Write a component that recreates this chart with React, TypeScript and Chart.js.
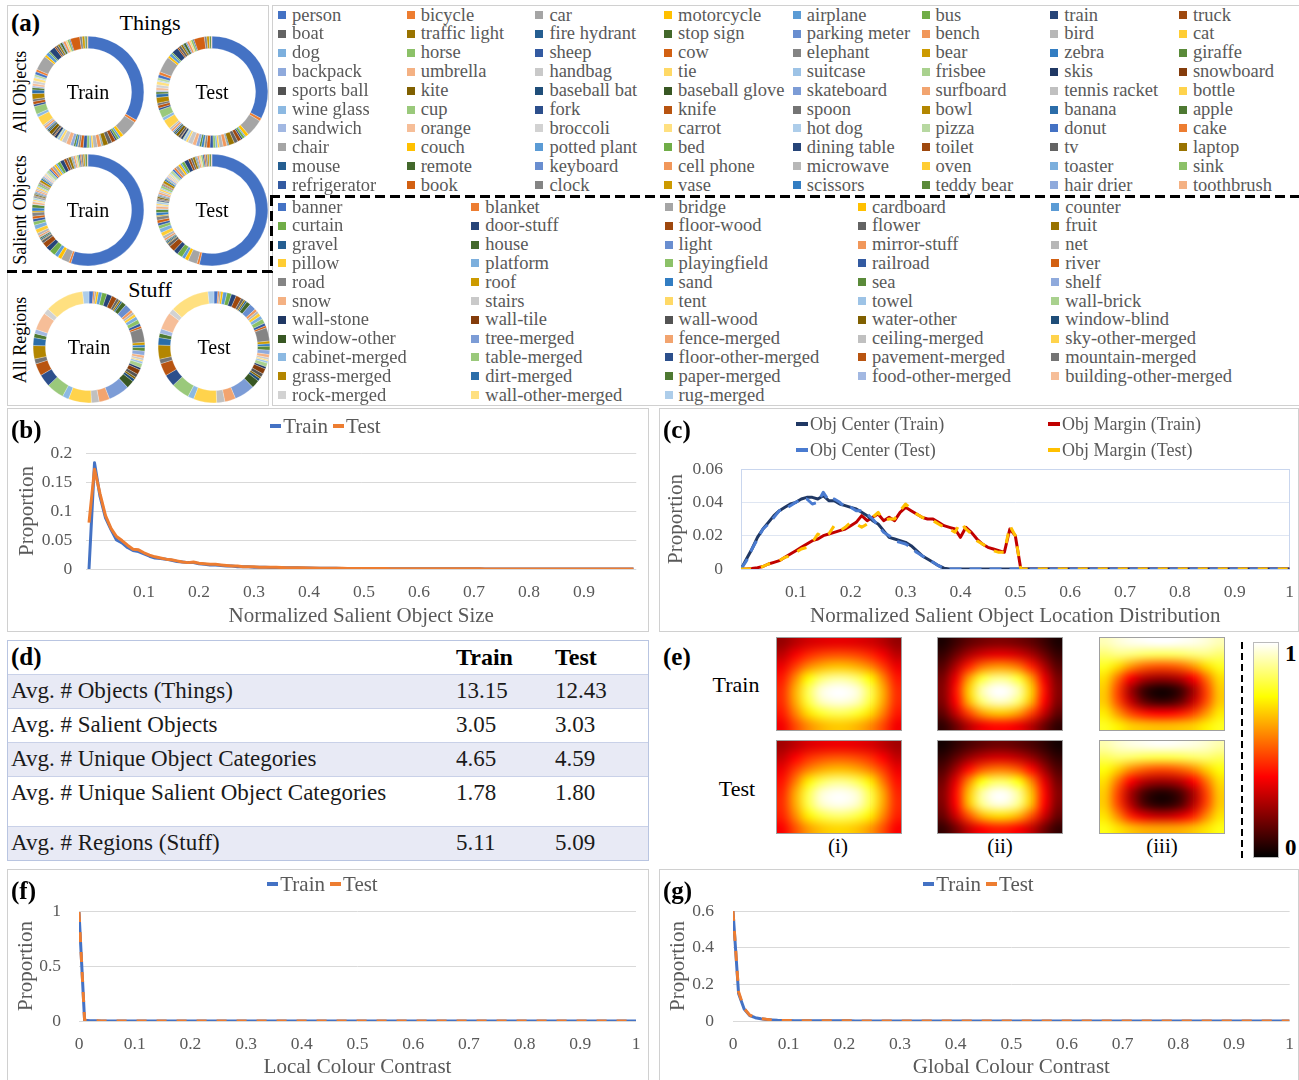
import React, { useEffect, useRef } from "react";
import { Chart, registerables } from "chart.js";
Chart.register(...registerables);

const SERIF = '"Liberation Serif", "Times New Roman", Times, serif';
const TXT = "#595959";

// ---------------- (a) categories & donut values ----------------
const THINGS = ["person","bicycle","car","motorcycle","airplane","bus","train","truck","boat","traffic light","fire hydrant","stop sign","parking meter","bench","bird","cat","dog","horse","sheep","cow","elephant","bear","zebra","giraffe","backpack","umbrella","handbag","tie","suitcase","frisbee","skis","snowboard","sports ball","kite","baseball bat","baseball glove","skateboard","surfboard","tennis racket","bottle","wine glass","cup","fork","knife","spoon","bowl","banana","apple","sandwich","orange","broccoli","carrot","hot dog","pizza","donut","cake","chair","couch","potted plant","bed","dining table","toilet","tv","laptop","mouse","remote","keyboard","cell phone","microwave","oven","toaster","sink","refrigerator","book","clock","vase","scissors","teddy bear","hair drier","toothbrush"];
const STUFF = ["banner","blanket","bridge","cardboard","counter","curtain","door-stuff","floor-wood","flower","fruit","gravel","house","light","mirror-stuff","net","pillow","platform","playingfield","railroad","river","road","roof","sand","sea","shelf","snow","stairs","tent","towel","wall-brick","wall-stone","wall-tile","wall-wood","water-other","window-blind","window-other","tree-merged","fence-merged","ceiling-merged","sky-other-merged","cabinet-merged","table-merged","floor-other-merged","pavement-merged","mountain-merged","grass-merged","dirt-merged","paper-merged","food-other-merged","building-other-merged","rock-merged","wall-other-merged","rug-merged"];

const THINGS_ALL_TRAIN = [300,7.1,43.9,8.7,5.1,6.1,4.6,10.0,10.8,12.9,1.9,2.0,1.3,9.8,10.8,4.8,5.5,6.6,9.5,8.1,5.5,1.3,5.3,5.1,8.7,11.4,12.4,6.5,6.2,2.7,6.6,2.7,6.3,9.1,3.3,3.7,5.5,6.1,4.8,24.3,7.9,20.7,5.5,7.8,6.2,14.4,9.5,5.9,4.4,6.4,7.3,7.9,2.9,5.8,7.2,6.4,38.5,5.8,8.7,4.2,15.7,4.2,5.8,5.0,2.3,5.7,2.9,6.4,1.7,3.3,0.2,5.6,2.6,24.7,6.3,6.6,1.5,4.8,0.2,2.0];
const THINGS_ALL_TEST = [126,3.2,19.3,3.7,1.4,2.8,1.9,4.1,4.2,6.3,1.0,0.8,0.6,4.1,4.3,2.0,2.2,2.7,3.5,3.7,2.5,0.7,2.7,2.3,3.7,4.1,5.4,2.5,3.0,1.2,2.4,0.7,2.6,3.3,1.5,1.5,1.8,2.7,2.3,10.3,3.4,9.0,2.2,3.3,2.5,6.3,3.8,2.4,1.8,2.9,3.2,3.7,1.3,2.9,3.4,3.2,17.9,2.6,3.4,1.6,7.0,1.8,2.9,2.3,1.1,2.8,1.5,2.6,0.6,1.4,0.1,2.3,1.3,11.6,2.7,2.8,0.4,1.9,0.1,0.6];
const THINGS_SALIENT_TRAIN = [700,8,30,14,14,22,18,20,10,3,5,5,3,6,10,15,16,13,10,10,14,5,12,12,2,8,3,5,5,3,3,2,3,5,2,3,5,6,6,6,4,8,3,3,2,9,6,3,7,4,6,4,4,12,6,8,10,8,6,12,15,10,8,10,2,3,4,6,3,4,1,6,5,4,7,6,2,7,1,2];
const THINGS_SALIENT_TEST = [680,9,34,13,12,20,17,22,11,4,5,4,3,7,11,14,15,12,9,11,13,4,11,11,3,9,4,6,6,3,4,2,4,6,2,3,5,7,6,7,4,9,3,4,3,10,6,3,8,4,6,5,4,11,7,8,12,9,6,11,16,9,8,9,2,3,4,6,3,4,1,6,5,5,7,6,2,6,1,2];
const STUFF_TRAIN = [12,4,5,6,10,14,15,15,8,5,5,13,20,8,7,8,10,12,8,6,40,8,7,10,12,8,6,4,6,12,6,14,10,6,8,22,60,30,22,65,18,50,35,35,14,38,22,12,12,50,16,110,18];
const STUFF_TEST = [11,4,5,6,11,13,14,16,8,5,5,12,19,8,7,9,10,13,8,6,38,8,7,11,12,9,6,4,6,11,6,15,10,6,8,23,58,31,23,66,17,52,34,36,13,40,21,12,13,49,15,112,17];

// ---------------- (b) size distribution ----------------
const SIZE_TICKS = [0.1,0.2,0.3,0.4,0.5,0.6,0.7,0.8,0.9];
const SIZE_TRAIN = [
  0,0.183,0.125,0.088,0.068,0.05,0.045,0.037,0.032,0.03,
  0.026,0.022,0.019,0.018,0.017,0.015,0.013,0.012,0.011,0.011,
  0.009,0.008,0.007,0.007,0.006,0.005,0.005,0.004,0.004,0.004,
  0.003,0.003,0.003,0.0025,0.0025,0.002,0.002,0.002,0.002,0.0018,
  0.0016,0.0015,0.0014,0.0013,0.0012,0.0011,0.001,0.001,0.0009,0.0009,
  0.0008,0.0008,0.0007,0.0007,0.0006,0.0006,0.0006,0.0005,0.0005,0.0005,
  0.0004,0.0004,0.0004,0.0004,0.0003,0.0003,0.0003,0.0003,0.0003,0.0003,
  0.0003,0.0003,0.0002,0.0002,0.0002,0.0002,0.0002,0.0002,0.0002,0.0002,
  0.0002,0.0002,0.0002,0.0002,0.0002,0.0001,0.0001,0.0001,0.0001,0.0001,
  0.0001,0.0001,0.0001,0.0001,0.0001,0.0001,0.0001,0.0001,0.0001,0.0001];
const SIZE_TEST = [
  0.08,0.172,0.13,0.092,0.07,0.056,0.049,0.041,0.034,0.033,
  0.028,0.024,0.021,0.019,0.017,0.016,0.014,0.012,0.011,0.012,
  0.01,0.009,0.008,0.008,0.007,0.006,0.005,0.005,0.004,0.004,
  0.004,0.003,0.003,0.003,0.003,0.0025,0.0022,0.002,0.002,0.002,
  0.0018,0.0016,0.0015,0.0014,0.0013,0.0012,0.0011,0.001,0.001,0.0009,
  0.0009,0.0008,0.0008,0.0007,0.0007,0.0006,0.0006,0.0005,0.0005,0.0005,
  0.0004,0.0004,0.0004,0.0004,0.0004,0.0003,0.0003,0.0003,0.0003,0.0003,
  0.0003,0.0003,0.0002,0.0002,0.0002,0.0002,0.0002,0.0002,0.0002,0.0002,
  0.0002,0.0002,0.0002,0.0002,0.0002,0.0002,0.0001,0.0001,0.0001,0.0001,
  0.0001,0.0001,0.0001,0.0001,0.0001,0.0001,0.0001,0.0001,0.0001,0.0001];

// ---------------- (c) location distribution ----------------
const LOC_TICKS = [0.1,0.2,0.3,0.4,0.5,0.6,0.7,0.8,0.9,1];
const CENTER_TRAIN = [
  0,0.006,0.012,0.019,0.024,0.028,0.032,0.035,0.037,0.039,
  0.04,0.042,0.043,0.043,0.042,0.044,0.041,0.041,0.039,0.038,
  0.037,0.036,0.034,0.032,0.029,0.027,0.023,0.019,0.018,0.017,
  0.016,0.014,0.011,0.008,0.006,0.004,0.002,0.0005,0,0,
  0,0,0,0,0,0,0,0,0,0, 0,0,0,0,0,0,0,0,0,0,
  0,0,0,0,0,0,0,0,0,0, 0,0,0,0,0,0,0,0,0,0,
  0,0,0,0,0,0,0,0,0,0, 0,0,0,0,0,0,0,0,0,0, 0];
const CENTER_TEST = [
  0,0.005,0.012,0.018,0.024,0.027,0.031,0.035,0.036,0.038,
  0.04,0.042,0.042,0.039,0.04,0.046,0.041,0.042,0.04,0.037,
  0.037,0.035,0.035,0.033,0.03,0.026,0.022,0.02,0.017,0.016,
  0.015,0.013,0.01,0.008,0.006,0.004,0.002,0.0003,0,0,
  0,0,0,0,0,0,0,0,0,0, 0,0,0,0,0,0,0,0,0,0,
  0,0,0,0,0,0,0,0,0,0, 0,0,0,0,0,0,0,0,0,0,
  0,0,0,0,0,0,0,0,0,0, 0,0,0,0,0,0,0,0,0,0, 0];
const MARGIN_TRAIN = [
  0,0,0.0003,0.0008,0.0015,0.003,0.004,0.005,0.007,0.009,
  0.011,0.013,0.015,0.017,0.018,0.02,0.021,0.022,0.023,0.024,
  0.026,0.028,0.032,0.029,0.031,0.033,0.029,0.031,0.029,0.034,
  0.037,0.035,0.033,0.031,0.03,0.03,0.028,0.026,0.025,0.024,
  0.019,0.025,0.022,0.018,0.015,0.013,0.012,0.011,0.01,0.024,
  0.02,0,0,0,0,0,0,0,0,0,
  0,0,0,0,0,0,0,0,0,0, 0,0,0,0,0,0,0,0,0,0,
  0,0,0,0,0,0,0,0,0,0, 0,0,0,0,0,0,0,0,0,0, 0];
const MARGIN_TEST = [
  0,0,0.0002,0.0006,0.0015,0.003,0.004,0.005,0.007,0.008,
  0.01,0.012,0.013,0.016,0.021,0.019,0.021,0.026,0.023,0.025,
  0.028,0.027,0.025,0.027,0.031,0.034,0.029,0.03,0.03,0.035,
  0.039,0.036,0.033,0.031,0.03,0.029,0.027,0.025,0.024,0.022,
  0.028,0.024,0.021,0.017,0.015,0.013,0.011,0.01,0.01,0.026,
  0.02,0,0,0,0,0,0,0,0,0,
  0,0,0,0,0,0,0,0,0,0, 0,0,0,0,0,0,0,0,0,0,
  0,0,0,0,0,0,0,0,0,0, 0,0,0,0,0,0,0,0,0,0, 0];

// ---------------- (d) table ----------------
const TABLE_ROWS = ["Avg. # Objects (Things)","Avg. # Salient Objects","Avg. # Unique Object Categories","Avg. # Unique Salient Object Categories","Avg. # Regions (Stuff)"];
const TABLE_TRAIN = ["13.15","3.05","4.65","1.78","5.11"];
const TABLE_TEST = ["12.43","3.03","4.59","1.80","5.09"];

// ---------------- (e) heat maps (8 rows x 10 cols, top row first) ----------------
const HEAT_I_TRAIN = [
  [0.22,0.27,0.31,0.33,0.34,0.34,0.33,0.31,0.27,0.22],
  [0.28,0.36,0.43,0.47,0.49,0.49,0.47,0.43,0.36,0.28],
  [0.35,0.46,0.57,0.63,0.66,0.66,0.63,0.57,0.46,0.35],
  [0.41,0.57,0.74,0.85,0.9,0.9,0.85,0.74,0.57,0.41],
  [0.44,0.63,0.83,0.96,1.0,1.0,0.96,0.83,0.63,0.44],
  [0.44,0.62,0.81,0.93,0.97,0.97,0.93,0.81,0.62,0.44],
  [0.41,0.56,0.7,0.79,0.83,0.83,0.79,0.7,0.56,0.41],
  [0.36,0.48,0.58,0.64,0.67,0.67,0.64,0.58,0.48,0.36]];
const HEAT_I_TEST = [
  [0.24,0.28,0.32,0.34,0.35,0.35,0.34,0.32,0.28,0.24],
  [0.29,0.37,0.44,0.48,0.5,0.5,0.48,0.44,0.37,0.29],
  [0.35,0.46,0.56,0.62,0.65,0.65,0.62,0.56,0.46,0.35],
  [0.4,0.55,0.72,0.83,0.88,0.88,0.83,0.72,0.55,0.4],
  [0.43,0.62,0.82,0.95,0.99,0.99,0.95,0.82,0.62,0.43],
  [0.44,0.62,0.82,0.94,0.98,0.98,0.94,0.82,0.62,0.44],
  [0.42,0.57,0.72,0.81,0.85,0.85,0.81,0.72,0.57,0.42],
  [0.37,0.49,0.6,0.66,0.69,0.69,0.66,0.6,0.49,0.37]];
const HEAT_II_TRAIN = [
  [0.04,0.09,0.14,0.17,0.19,0.19,0.17,0.14,0.09,0.04],
  [0.08,0.16,0.25,0.31,0.34,0.34,0.31,0.25,0.16,0.08],
  [0.13,0.26,0.42,0.54,0.59,0.59,0.54,0.42,0.26,0.13],
  [0.18,0.35,0.6,0.8,0.88,0.88,0.8,0.6,0.35,0.18],
  [0.2,0.4,0.68,0.92,1.0,1.0,0.92,0.68,0.4,0.2],
  [0.19,0.38,0.64,0.86,0.94,0.94,0.86,0.64,0.38,0.19],
  [0.14,0.29,0.47,0.6,0.66,0.66,0.6,0.47,0.29,0.14],
  [0.07,0.16,0.27,0.35,0.39,0.39,0.35,0.27,0.16,0.07]];
const HEAT_II_TEST = [
  [0.03,0.07,0.11,0.14,0.16,0.16,0.14,0.11,0.07,0.03],
  [0.07,0.14,0.22,0.28,0.31,0.31,0.28,0.22,0.14,0.07],
  [0.12,0.24,0.39,0.5,0.55,0.55,0.5,0.39,0.24,0.12],
  [0.17,0.34,0.57,0.76,0.84,0.84,0.76,0.57,0.34,0.17],
  [0.2,0.39,0.66,0.9,0.99,0.99,0.9,0.66,0.39,0.2],
  [0.19,0.38,0.65,0.88,0.96,0.96,0.88,0.65,0.38,0.19],
  [0.15,0.3,0.49,0.63,0.69,0.69,0.63,0.49,0.3,0.15],
  [0.08,0.17,0.29,0.37,0.41,0.41,0.37,0.29,0.17,0.08]];
const HEAT_III_TRAIN = [
  [0.93,0.96,0.98,0.99,1.0,1.0,0.99,0.98,0.96,0.93],
  [0.86,0.88,0.87,0.85,0.84,0.84,0.85,0.87,0.88,0.86],
  [0.78,0.7,0.6,0.53,0.5,0.5,0.53,0.6,0.7,0.78],
  [0.7,0.54,0.37,0.27,0.23,0.23,0.27,0.37,0.54,0.7],
  [0.67,0.47,0.24,0.09,0.03,0.03,0.09,0.24,0.47,0.67],
  [0.67,0.49,0.29,0.15,0.09,0.09,0.15,0.29,0.49,0.67],
  [0.72,0.6,0.48,0.41,0.38,0.38,0.41,0.48,0.6,0.72],
  [0.78,0.73,0.68,0.66,0.65,0.65,0.66,0.68,0.73,0.78]];
const HEAT_III_TEST = [
  [0.92,0.95,0.97,0.98,0.99,0.99,0.98,0.97,0.95,0.92],
  [0.84,0.86,0.85,0.83,0.82,0.82,0.83,0.85,0.86,0.84],
  [0.76,0.68,0.58,0.52,0.49,0.49,0.52,0.58,0.68,0.76],
  [0.7,0.54,0.38,0.28,0.24,0.24,0.28,0.38,0.54,0.7],
  [0.67,0.47,0.25,0.11,0.05,0.05,0.11,0.25,0.47,0.67],
  [0.67,0.48,0.27,0.12,0.06,0.06,0.12,0.27,0.48,0.67],
  [0.71,0.58,0.43,0.34,0.3,0.3,0.34,0.43,0.58,0.71],
  [0.77,0.71,0.66,0.63,0.62,0.62,0.63,0.66,0.71,0.77]];

// ---------------- (f) / (g) colour contrast ----------------
const CONTRAST_TICKS = [0,0.1,0.2,0.3,0.4,0.5,0.6,0.7,0.8,0.9,1];
const LOCAL_TRAIN = [
  0.99,0.008,0.003,0.002,0.001,0.001,0.001,0.0005,0.0005,0.0005,
  0,0,0,0,0,0,0,0,0,0, 0,0,0,0,0,0,0,0,0,0, 0,0,0,0,0,0,0,0,0,0,
  0,0,0,0,0,0,0,0,0,0, 0,0,0,0,0,0,0,0,0,0, 0,0,0,0,0,0,0,0,0,0,
  0,0,0,0,0,0,0,0,0,0, 0,0,0,0,0,0,0,0,0,0, 0,0,0,0,0,0,0,0,0,0, 0];
const LOCAL_TEST = [
  0.99,0.01,0.003,0.002,0.001,0.001,0.0008,0.0005,0.0005,0.0004,
  0,0,0,0,0,0,0,0,0,0, 0,0,0,0,0,0,0,0,0,0, 0,0,0,0,0,0,0,0,0,0,
  0,0,0,0,0,0,0,0,0,0, 0,0,0,0,0,0,0,0,0,0, 0,0,0,0,0,0,0,0,0,0,
  0,0,0,0,0,0,0,0,0,0, 0,0,0,0,0,0,0,0,0,0, 0,0,0,0,0,0,0,0,0,0, 0];
const GLOBAL_TRAIN = [
  0.6,0.15,0.065,0.03,0.018,0.012,0.008,0.006,0.004,0.003,
  0.003,0.002,0.002,0.002,0.0015,0.0015,0.001,0.001,0.001,0.001,
  0.0008,0.0008,0.0006,0.0006,0.0005,0.0005,0.0004,0.0004,0.0003,0.0003,
  0.0003,0.0002,0.0002,0.0002,0.0002,0.0001,0.0001,0.0001,0.0001,0.0001,
  0,0,0,0,0,0,0,0,0,0, 0,0,0,0,0,0,0,0,0,0, 0,0,0,0,0,0,0,0,0,0,
  0,0,0,0,0,0,0,0,0,0, 0,0,0,0,0,0,0,0,0,0, 0,0,0,0,0,0,0,0,0,0, 0];
const GLOBAL_TEST = [
  0.6,0.16,0.068,0.032,0.019,0.013,0.009,0.006,0.004,0.003,
  0.003,0.002,0.002,0.002,0.0015,0.0015,0.001,0.001,0.001,0.001,
  0.0008,0.0008,0.0006,0.0006,0.0005,0.0005,0.0004,0.0004,0.0003,0.0003,
  0.0003,0.0002,0.0002,0.0002,0.0002,0.0001,0.0001,0.0001,0.0001,0.0001,
  0,0,0,0,0,0,0,0,0,0, 0,0,0,0,0,0,0,0,0,0, 0,0,0,0,0,0,0,0,0,0,
  0,0,0,0,0,0,0,0,0,0, 0,0,0,0,0,0,0,0,0,0, 0,0,0,0,0,0,0,0,0,0, 0];

// ---------------- helpers ----------------
const ACCENTS = ["#4472C4","#ED7D31","#A5A5A5","#FFC000","#5B9BD5","#70AD47"];
const VARIANTS = [[1,0],[0.6,0],[0.8,0.2],[0.8,0],[0.6,0.4],[0.5,0],[0.7,0.3],[0.7,0],[0.5,0.5]];
function rgbToHsl(r: number, g: number, b: number) {
  r /= 255; g /= 255; b /= 255;
  const max = Math.max(r, g, b), min = Math.min(r, g, b);
  let h = 0, s = 0; const l = (max + min) / 2;
  if (max !== min) {
    const d = max - min;
    s = l > 0.5 ? d / (2 - max - min) : d / (max + min);
    if (max === r) h = (g - b) / d + (g < b ? 6 : 0);
    else if (max === g) h = (b - r) / d + 2;
    else h = (r - g) / d + 4;
    h /= 6;
  }
  return [h, s, l];
}
function hslToRgb(h: number, s: number, l: number) {
  if (s === 0) return [l, l, l].map((v) => Math.round(v * 255));
  const f = (p: number, q: number, t: number) => {
    if (t < 0) t += 1; if (t > 1) t -= 1;
    if (t < 1 / 6) return p + (q - p) * 6 * t;
    if (t < 1 / 2) return q;
    if (t < 2 / 3) return p + (q - p) * (2 / 3 - t) * 6;
    return p;
  };
  const q = l < 0.5 ? l * (1 + s) : l + s - l * s; const p = 2 * l - q;
  return [f(p, q, h + 1 / 3), f(p, q, h), f(p, q, h - 1 / 3)].map((v) => Math.round(v * 255));
}
function excelColor(i: number) {
  const n = parseInt(ACCENTS[i % 6].slice(1), 16);
  const [m, o] = VARIANTS[Math.floor(i / 6) % 9];
  const [h, s, l] = rgbToHsl((n >> 16) & 255, (n >> 8) & 255, n & 255);
  const [r, g, b] = hslToRgb(h, s, Math.min(1, l * m + o));
  return `rgb(${r},${g},${b})`;
}
function hot(v: number) {
  const c = (x: number) => Math.max(0, Math.min(1, x));
  return [c(v / 0.375) * 255, c((v - 0.375) / 0.375) * 255, c((v - 0.75) / 0.25) * 255];
}
const fmt = (v: any) => String(Number(Number(v).toFixed(3)));

type Box = { l: number; t: number; w: number; h: number };

function ChartCanvas({ box, config }: { box: Box; config: any }) {
  const ref = useRef<HTMLCanvasElement | null>(null);
  useEffect(() => {
    const c = new Chart(ref.current as HTMLCanvasElement, config);
    return () => c.destroy();
  }, []);
  return (
    <div style={{ position: "absolute", left: box.l, top: box.t, width: box.w, height: box.h }}>
      <canvas ref={ref} width={box.w} height={box.h} style={{ display: "block", width: box.w, height: box.h }} />
    </div>
  );
}

const plotBorder = (color: string) => ({
  id: "plotBorder",
  beforeDatasetsDraw(chart: any) {
    const { ctx, chartArea: a } = chart;
    ctx.save(); ctx.strokeStyle = color; ctx.lineWidth = 1;
    ctx.strokeRect(Math.round(a.left) + 0.5, Math.round(a.top) + 0.5, Math.round(a.right - a.left) - 1, Math.round(a.bottom - a.top));
    ctx.restore();
  },
});

function lineConfig(o: any) {
  const padTop = o.plot.t - o.box.t;
  const padRight = o.box.l + o.box.w - o.plot.r;
  const yW = o.plot.l - o.box.l;
  const xH = o.box.t + o.box.h - o.plot.b;
  const titleSize = 21; const lh = titleSize * 1.2;
  const tickFont = { family: SERIF, size: 17.5 };
  return {
    type: "line",
    data: { datasets: o.datasets },
    options: {
      responsive: false, animation: false, devicePixelRatio: 1,
      layout: { padding: { left: 0, top: padTop, right: padRight, bottom: 0 } },
      plugins: { legend: { display: false }, tooltip: { enabled: false } },
      elements: { point: { radius: 0 }, line: { tension: 0, borderWidth: 3, borderCapStyle: "butt", borderJoinStyle: "round" } },
      scales: {
        x: {
          type: "linear", min: o.xMin, max: o.xMax,
          afterBuildTicks: (s: any) => { s.ticks = o.xTicks.map((v: number) => ({ value: v })); },
          afterFit: (s: any) => { s.height = xH; },
          grid: { display: false }, border: { display: false },
          ticks: { color: TXT, font: tickFont, padding: o.xLabelPad, maxRotation: 0, autoSkip: false, callback: (v: any) => fmt(v) },
          title: { display: true, text: o.xTitle, color: TXT, font: { family: SERIF, size: titleSize }, padding: { top: 0, bottom: (o.box.t + o.box.h - o.xTitleCy) - lh / 2 } },
        },
        y: {
          type: "linear", min: o.yMin, max: o.yMax,
          afterFit: (s: any) => { s.width = yW; },
          ticks: { stepSize: o.yStep, color: TXT, font: tickFont, padding: o.yLabelPad, callback: (v: any) => fmt(v) },
          grid: { color: o.gridColor, lineWidth: 1, drawTicks: false }, border: { display: false },
          title: { display: true, text: "Proportion", color: TXT, font: { family: SERIF, size: titleSize }, padding: { top: (o.yTitleCx - o.box.l) - lh / 2, bottom: 0 } },
        },
      },
    },
    plugins: o.border ? [plotBorder(o.border)] : [],
  };
}

const pts = (xs: number[], ys: number[]) => ys.map((y, i) => ({ x: xs[i], y }));
const SIZE_BINS = SIZE_TRAIN.map((_, i) => i / 100);
const LOC_BINS = CENTER_TRAIN.map((_, i) => i / 100);
const CONTRAST_BINS = LOCAL_TRAIN.map((_, i) => i / 100);

const BLUE = "#4472C4", ORANGE = "#ED7D31";

function donutConfig(values: number[], labels: string[]) {
  return {
    type: "doughnut",
    data: { labels, datasets: [{ data: values, backgroundColor: values.map((_, i) => excelColor(i)), borderColor: "#ffffff", borderWidth: 0.25 }] },
    options: { responsive: false, animation: false, devicePixelRatio: 1, cutout: "78%", layout: { padding: 0 }, plugins: { legend: { display: false }, tooltip: { enabled: false } } },
  };
}

const heatPlugin = {
  id: "heat",
  beforeDatasetsDraw(chart: any) {
    const { ctx } = chart;
    const xs = chart.scales.x, ys = chart.scales.y;
    const cols = xs.max, rows = ys.max;
    const off = document.createElement("canvas"); off.width = cols; off.height = rows;
    const octx = off.getContext("2d") as CanvasRenderingContext2D;
    const img = octx.createImageData(cols, rows);
    for (const p of chart.data.datasets[0].data) {
      const c = Math.floor(p.x), r = Math.floor(p.y); const k = (r * cols + c) * 4;
      const [R, G, B] = hot(p.v);
      img.data[k] = R; img.data[k + 1] = G; img.data[k + 2] = B; img.data[k + 3] = 255;
    }
    octx.putImageData(img, 0, 0);
    const x0 = xs.getPixelForValue(0), x1 = xs.getPixelForValue(cols);
    const y0 = ys.getPixelForValue(0), y1 = ys.getPixelForValue(rows);
    ctx.save();
    ctx.imageSmoothingEnabled = true; (ctx as any).imageSmoothingQuality = "high";
    ctx.drawImage(off, x0, Math.min(y0, y1), x1 - x0, Math.abs(y1 - y0));
    ctx.strokeStyle = "#a0a0a0"; ctx.lineWidth = 1;
    ctx.strokeRect(x0 + 0.5, Math.min(y0, y1) + 0.5, x1 - x0 - 1, Math.abs(y1 - y0) - 1);
    ctx.restore();
  },
};
function heatConfig(grid: number[][]) {
  const cells: any[] = [];
  grid.forEach((row, r) => row.forEach((v, c) => cells.push({ x: c + 0.5, y: r + 0.5, v })));
  return {
    type: "scatter",
    data: { datasets: [{ data: cells, pointRadius: 0 }] },
    options: {
      responsive: false, animation: false, devicePixelRatio: 1, layout: { padding: 0 },
      plugins: { legend: { display: false }, tooltip: { enabled: false } },
      scales: { x: { type: "linear", min: 0, max: grid[0].length, display: false }, y: { type: "linear", min: 0, max: grid.length, reverse: true, display: false } },
    },
    plugins: [heatPlugin],
  };
}

function T({ x, y, size = 18, bold = false, color = "#000", anchor = "start", children }: any) {
  const lh = Math.round(size * 1.2);
  return (
    <div style={{ position: "absolute", left: x, top: y - lh / 2, lineHeight: lh + "px", fontSize: size, fontWeight: bold ? "bold" : "normal", color, fontFamily: SERIF, whiteSpace: "nowrap", transform: anchor === "middle" ? "translateX(-50%)" : undefined }}>
      {children}
    </div>
  );
}
function VT({ x, y, size = 18, children }: any) {
  return (
    <div style={{ position: "absolute", left: x, top: y, fontSize: size, fontFamily: SERIF, color: "#000", whiteSpace: "nowrap", lineHeight: "1", transform: "translate(-50%,-50%) rotate(-90deg)" }}>{children}</div>
  );
}
function Frame({ l, t, w, h, color = "#d0d0d0" }: any) {
  return <div style={{ position: "absolute", left: l, top: t, width: w, height: h, border: `1.5px solid ${color}`, boxSizing: "border-box" }} />;
}
function Dash({ l, t, w, h, vertical = false, on = 10, off = 5 }: any) {
  const dir = vertical ? "180deg" : "90deg";
  return <div style={{ position: "absolute", left: l, top: t, width: w, height: h, background: `repeating-linear-gradient(${dir}, #000 0 ${on}px, transparent ${on}px ${on + off}px)` }} />;
}
function Legend({ cx, y, items, size = 21 }: any) {
  return (
    <div style={{ position: "absolute", left: cx - 200, width: 400, top: y - 13, height: 26, display: "flex", justifyContent: "center", alignItems: "center", fontFamily: SERIF, fontSize: size, color: TXT }}>
      {items.map((it: any) => (
        <span key={it.label} style={{ display: "inline-flex", alignItems: "center", marginRight: 5 }}>
          <span style={{ display: "inline-block", width: 11, height: 4, background: it.color, marginRight: 2 }} />
          {it.label}
        </span>
      ))}
    </div>
  );
}
function LegItem({ x, y, color, label, size = 18 }: any) {
  return (
    <div style={{ position: "absolute", left: x, top: y - 11, height: 22, display: "flex", alignItems: "center", fontFamily: SERIF, fontSize: size, color: TXT, whiteSpace: "nowrap" }}>
      <span style={{ display: "inline-block", width: 12, height: 4, background: color, marginRight: 2 }} />
      {label}
    </div>
  );
}

const DONUT_R = 56;
function Donut({ cx, cy, values, labels, text }: any) {
  const s = DONUT_R * 2;
  return (
    <>
      <ChartCanvas box={{ l: cx - DONUT_R, t: cy - DONUT_R, w: s, h: s }} config={donutConfig(values, labels)} />
      <T x={cx} y={cy} size={20} anchor="middle">{text}</T>
    </>
  );
}

export default function App() {
  const bBox = { l: 7, t: 408, w: 642, h: 224 };
  const cBox = { l: 659, t: 408, w: 640, h: 224 };
  const fBox = { l: 7, t: 869, w: 642, h: 211 };
  const gBox = { l: 659, t: 869, w: 640, h: 211 };
  const heatW = 126, heatH = 94;
  const heatX = [776, 937, 1099];
  const heatY = [637, 740];
  const heatGrids = [[HEAT_I_TRAIN, HEAT_II_TRAIN, HEAT_III_TRAIN], [HEAT_I_TEST, HEAT_II_TEST, HEAT_III_TEST]];
  const rowTops = [674, 708, 742, 776, 826];
  const rowH = [34, 34, 34, 50, 34];

  return (
    <div style={{ position: "absolute", left: 0, top: 0, width: 1299, height: 1080, background: "#fff", overflow: "hidden", fontFamily: SERIF }}>
      {/* ---------- (a) ---------- */}
      <Frame l={7} t={5} w={262} h={401} />
      <Frame l={272} t={5} w={1030} h={401} />
      <Dash l={7} t={270} w={266} h={3} />
      <Dash l={270} t={196} w={3} h={77} vertical />
      <Dash l={270} t={195} w={1029} h={3} />
      <T x={11} y={23} size={25} bold>(a)</T>
      <T x={150} y={23} size={22} anchor="middle">Things</T>
      <T x={150} y={290} size={22} anchor="middle">Stuff</T>
      <VT x={20} y={92}>All Objects</VT>
      <VT x={20} y={210}>Salient Objects</VT>
      <VT x={20} y={340}>All Regions</VT>
      <Donut cx={88} cy={92} values={THINGS_ALL_TRAIN} labels={THINGS} text="Train" />
      <Donut cx={212} cy={92} values={THINGS_ALL_TEST} labels={THINGS} text="Test" />
      <Donut cx={88} cy={210} values={THINGS_SALIENT_TRAIN} labels={THINGS} text="Train" />
      <Donut cx={212} cy={210} values={THINGS_SALIENT_TEST} labels={THINGS} text="Test" />
      <Donut cx={89} cy={347} values={STUFF_TRAIN} labels={STUFF} text="Train" />
      <Donut cx={214} cy={347} values={STUFF_TEST} labels={STUFF} text="Test" />
      {THINGS.map((name, i) => (
        <div key={name} style={{ position: "absolute", left: 278 + (i % 8) * 128.7, top: 15 + Math.floor(i / 8) * 18.9 - 11, height: 22, display: "flex", alignItems: "center", fontSize: 18.5, color: TXT, whiteSpace: "nowrap" }}>
          <span style={{ display: "inline-block", width: 8, height: 8, background: excelColor(i), marginRight: 6 }} />
          {name}
        </div>
      ))}
      {STUFF.map((name, i) => (
        <div key={name} style={{ position: "absolute", left: 278 + (i % 5) * 193.3, top: 207 + Math.floor(i / 5) * 18.8 - 11, height: 22, display: "flex", alignItems: "center", fontSize: 18.5, color: TXT, whiteSpace: "nowrap" }}>
          <span style={{ display: "inline-block", width: 8, height: 8, background: excelColor(i), marginRight: 6 }} />
          {name}
        </div>
      ))}

      {/* ---------- (b) ---------- */}
      <Frame l={bBox.l} t={bBox.t} w={bBox.w} h={bBox.h} />
      <ChartCanvas box={bBox} config={lineConfig({
        box: bBox, plot: { l: 86.25, t: 453, r: 636.25, b: 569 },
        xMin: -0.005, xMax: 0.995, xTicks: SIZE_TICKS, yMin: 0, yMax: 0.2, yStep: 0.05,
        yLabelPad: 14, xLabelPad: 5, yTitleCx: 27, xTitleCy: 616, xTitle: "Normalized Salient Object Size", gridColor: "#d9d9d9",
        datasets: [
          { label: "Train", data: pts(SIZE_BINS, SIZE_TRAIN), borderColor: BLUE, order: 2 },
          { label: "Test", data: pts(SIZE_BINS, SIZE_TEST), borderColor: ORANGE, order: 1 },
        ],
      })} />
      <T x={11} y={430} size={25} bold>(b)</T>
      <Legend cx={328} y={426} items={[{ label: "Train", color: BLUE }, { label: "Test", color: ORANGE }]} />

      {/* ---------- (c) ---------- */}
      <Frame l={cBox.l} t={cBox.t} w={cBox.w} h={cBox.h} />
      <ChartCanvas box={cBox} config={lineConfig({
        box: cBox, plot: { l: 741, t: 469, r: 1291, b: 569 },
        xMin: 0, xMax: 1, xTicks: LOC_TICKS, yMin: 0, yMax: 0.06, yStep: 0.02,
        yLabelPad: 18, xLabelPad: 5, yTitleCx: 676, xTitleCy: 616, xTitle: "Normalized Salient Object Location Distribution", gridColor: "#dfe6f2", border: "#c9d6ee",
        datasets: [
          { label: "Obj Margin (Train)", data: pts(LOC_BINS, MARGIN_TRAIN), borderColor: "#C00000", order: 4 },
          { label: "Obj Center (Train)", data: pts(LOC_BINS, CENTER_TRAIN), borderColor: "#203864", order: 3 },
          { label: "Obj Center (Test)", data: pts(LOC_BINS, CENTER_TEST), borderColor: "#4A7BD0", borderDash: [12, 8], order: 2 },
          { label: "Obj Margin (Test)", data: pts(LOC_BINS, MARGIN_TEST), borderColor: "#FFC000", borderDash: [10, 10], order: 1 },
        ],
      })} />
      <T x={663} y={430} size={25} bold>(c)</T>
      <LegItem x={796} y={424} color="#203864" label="Obj Center (Train)" />
      <LegItem x={1048} y={424} color="#C00000" label="Obj Margin (Train)" />
      <LegItem x={796} y={450} color="#4A7BD0" label="Obj Center (Test)" />
      <LegItem x={1048} y={450} color="#FFC000" label="Obj Margin (Test)" />

      {/* ---------- (d) ---------- */}
      {rowTops.map((t, i) => (
        <div key={"bg" + i} style={{ position: "absolute", left: 7, top: t, width: 642, height: rowH[i], background: i % 2 === 0 ? "#e8eaf5" : "#ffffff", borderTop: "1px solid #c9d1e8", boxSizing: "border-box" }} />
      ))}
      <Frame l={7} t={640} w={642} h={221} color="#b9c5e1" />
      <T x={11} y={657} size={25} bold>(d)</T>
      <T x={456} y={657} size={24} bold>Train</T>
      <T x={555} y={657} size={24} bold>Test</T>
      {TABLE_ROWS.map((r, i) => (
        <React.Fragment key={r}>
          <T x={11} y={rowTops[i] + 17} size={23} color="#1a1a1a">{r}</T>
          <T x={456} y={rowTops[i] + 17} size={23} color="#1a1a1a">{TABLE_TRAIN[i]}</T>
          <T x={555} y={rowTops[i] + 17} size={23} color="#1a1a1a">{TABLE_TEST[i]}</T>
        </React.Fragment>
      ))}

      {/* ---------- (e) ---------- */}
      <T x={663} y={657} size={25} bold>(e)</T>
      <T x={736} y={685} size={22} anchor="middle">Train</T>
      <T x={737} y={789} size={22} anchor="middle">Test</T>
      {heatGrids.map((row, r) => row.map((g, c) => (
        <ChartCanvas key={`h${r}${c}`} box={{ l: heatX[c], t: heatY[r], w: heatW, h: heatH }} config={heatConfig(g)} />
      )))}
      <T x={838} y={846} size={21} anchor="middle">(i)</T>
      <T x={1000} y={846} size={21} anchor="middle">(ii)</T>
      <T x={1162} y={846} size={21} anchor="middle">(iii)</T>
      <Dash l={1241} t={642} w={2} h={216} vertical on={7} off={4} />
      <div style={{ position: "absolute", left: 1253, top: 642, width: 26, height: 216, background: "linear-gradient(to top, #000 0%, #f00 37.5%, #ff0 75%, #fff 100%)", border: "1px solid #bbb", boxSizing: "border-box" }} />
      <T x={1285} y={654} size={23} bold>1</T>
      <T x={1285} y={848} size={23} bold>0</T>

      {/* ---------- (f) ---------- */}
      <Frame l={fBox.l} t={fBox.t} w={fBox.w} h={fBox.h + 2} />
      <ChartCanvas box={fBox} config={lineConfig({
        box: fBox, plot: { l: 79, t: 911, r: 636, b: 1021 },
        xMin: 0, xMax: 1, xTicks: CONTRAST_TICKS, yMin: 0, yMax: 1, yStep: 0.5,
        yLabelPad: 18, xLabelPad: 5, yTitleCx: 26, xTitleCy: 1067, xTitle: "Local Colour Contrast", gridColor: "#d9d9d9",
        datasets: [
          { label: "Train", data: pts(CONTRAST_BINS, LOCAL_TRAIN), borderColor: BLUE, order: 2 },
          { label: "Test", data: pts(CONTRAST_BINS, LOCAL_TEST), borderColor: ORANGE, borderDash: [10, 10], order: 1 },
        ],
      })} />
      <T x={11} y={891} size={25} bold>(f)</T>
      <Legend cx={325} y={884} items={[{ label: "Train", color: BLUE }, { label: "Test", color: ORANGE }]} />

      {/* ---------- (g) ---------- */}
      <Frame l={gBox.l} t={gBox.t} w={gBox.w} h={gBox.h + 2} />
      <ChartCanvas box={gBox} config={lineConfig({
        box: gBox, plot: { l: 733, t: 911, r: 1291, b: 1021 },
        xMin: 0, xMax: 1, xTicks: CONTRAST_TICKS, yMin: 0, yMax: 0.6, yStep: 0.2,
        yLabelPad: 19, xLabelPad: 5, yTitleCx: 678, xTitleCy: 1067, xTitle: "Global Colour Contrast", gridColor: "#d9d9d9",
        datasets: [
          { label: "Train", data: pts(CONTRAST_BINS, GLOBAL_TRAIN), borderColor: BLUE, order: 2 },
          { label: "Test", data: pts(CONTRAST_BINS, GLOBAL_TEST), borderColor: ORANGE, borderDash: [10, 10], order: 1 },
        ],
      })} />
      <T x={663} y={891} size={25} bold>(g)</T>
      <Legend cx={981} y={884} items={[{ label: "Train", color: BLUE }, { label: "Test", color: ORANGE }]} />
    </div>
  );
}
